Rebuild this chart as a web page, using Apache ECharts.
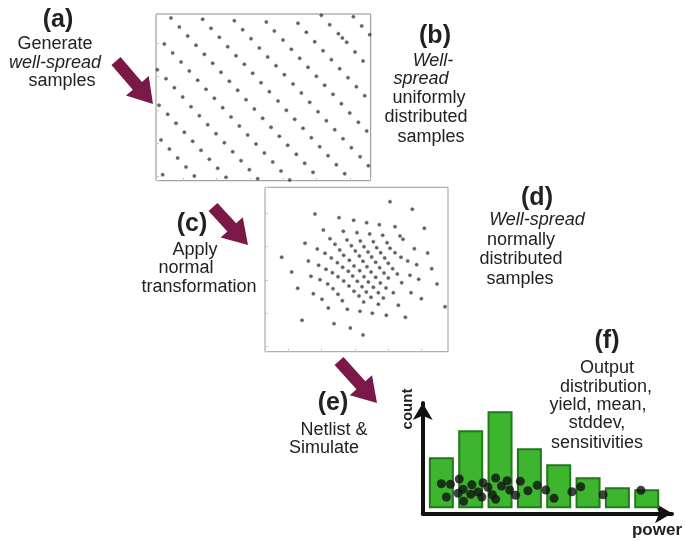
<!DOCTYPE html>
<html>
<head>
<meta charset="utf-8">
<script src="https://cdn.jsdelivr.net/npm/echarts@6/dist/echarts.min.js"></script>
<style>
  html, body { margin: 0; padding: 0; background: #fff; }
  #main { width: 685px; height: 541px; }
</style>
</head>
<body>
<div id="main"></div>
<script>
// (b) well-spread uniform samples (x right, y down)
const uniformSamples = [
  [63,24],[158,28],[253,32],[349,36],[444,40],[514,16],[610,20],
  [88,51],[183,55],[278,59],[373,63],[469,67],[539,44],[635,48],
  [113,78],[208,82],[303,86],[399,90],[494,95],[565,71],[577,84],[590,97],[659,74],
  [43,102],[138,106],[233,110],[328,114],[424,118],[519,122],[615,126],
  [68,129],[163,133],[258,137],[353,141],[449,145],[544,149],[639,153],
  [93,156],[188,160],[283,163],[378,167],[474,172],[569,176],
  [22,179],[118,183],[213,187],[308,190],[403,194],[499,199],[594,203],
  [48,206],[143,211],[238,214],[333,218],[429,222],[524,226],[619,230],
  [73,233],[168,238],[263,241],[358,245],[454,249],[549,253],[644,257],
  [98,261],[193,265],[288,269],[384,273],[479,277],[574,281],
  [27,286],[123,290],[218,293],[313,297],[409,301],[504,305],[599,309],
  [53,313],[148,317],[243,321],[338,325],[434,328],[529,332],[625,337],
  [78,340],[173,344],[268,348],[363,352],[459,355],[554,359],[650,363],
  [103,367],[198,371],[293,375],[388,379],[484,383],[579,386],
  [33,390],[128,394],[223,398],[318,402],[413,406],[509,410],[604,413],
  [58,417],[153,421],[248,425],[343,429],[439,433],[534,437],[630,440],
  [83,444],[178,448],[273,452],[368,456],[464,460],[559,464],[655,467],
  [108,471],[203,475],[298,479],[393,483],[489,487],[584,491],
  [38,494],[133,498],[228,502],[323,506],[419,510]
]

// (d) same samples after the normal transformation
const normalSamples = [
  [405,65],[472,88],[180,102],[252,113],[296,121],[335,128],[373,134],[420,140],[508,145],
  [205,150],[265,154],[306,158],[344,162],[383,166],[435,168],[444,178],
  [150,190],[225,176],[276,180],[316,183],[355,185],[396,188],[478,206],
  [187,207],[240,193],[289,197],[327,200],[365,203],[405,205],[518,219],
  [80,232],[160,243],[210,220],[254,210],[301,213],[339,216],[377,218],[420,218],
  [229,234],[266,226],[313,228],[350,231],[389,234],[438,232],
  [191,256],[247,248],[283,241],[324,244],[362,247],[400,250],[458,243],[485,254],[530,266],
  [110,276],[213,268],[263,262],[297,258],[336,260],[374,263],[413,266],
  [168,289],[232,278],[280,274],[314,272],[348,276],[387,279],[427,282],[465,286],
  [195,299],[249,290],[293,288],[327,290],[362,292],[400,294],[491,298],[546,312],
  [128,325],[218,312],[266,303],[307,304],[340,306],[376,309],[440,308],
  [175,341],[234,326],[282,318],[321,320],[355,322],[393,324],[468,338],
  [201,358],[249,343],[297,334],[334,336],[370,338],[415,338],
  [262,362],[312,348],[348,352],[385,354],[499,356],
  [220,384],[277,388],[326,366],[370,373],[430,376],[570,380],
  [315,394],[352,400],[394,406],[451,412],
  [141,421],[237,431],[286,444],[324,465]
]

// (f) output histogram
const powerBins = ['1', '2', '3', '4', '5', '6', '7', '8']
const binCounts = [51, 78, 97, 60, 44, 31, 21, 19]
// simulated outputs drawn over the histogram
const simPower = [0.50,0.81,0.67,1.11,1.24,1.07,1.26,1.54,1.50,1.75,1.88,1.92,2.09,2.24,2.35,
  2.35,2.55,2.74,2.83,3.03,3.19,3.45,3.77,4.06,4.34,4.95,5.25,6.01,7.30]
const simLevel = [24.6,24,11.3,29.3,19,15,7,23.6,14,16.3,11.3,25.6,21,13.6,30.3,
  9,22.3,27.6,18.3,13,27,17.6,23,18.3,10,16.6,21.6,13.6,18]

const FONT = '"Liberation Sans", Arial, Helvetica, sans-serif'
const INK = '#222'
const ARROW = '#7a1848'

const chart = echarts.init(document.getElementById('main'), null, { renderer: 'canvas' })

// 画一个粗箭头 (tail -> tip)
function arrow(tail, tip, shaftW, headW, headL) {
  const dx = tip[0] - tail[0], dy = tip[1] - tail[1]
  const len = Math.sqrt(dx * dx + dy * dy)
  const ux = dx / len, uy = dy / len, nx = -uy, ny = ux
  const bx = tip[0] - ux * headL, by = tip[1] - uy * headL
  const pts = [
    [tail[0] + nx * shaftW / 2, tail[1] + ny * shaftW / 2],
    [bx + nx * shaftW / 2, by + ny * shaftW / 2],
    [bx + nx * headW / 2, by + ny * headW / 2],
    tip,
    [bx - nx * headW / 2, by - ny * headW / 2],
    [bx - nx * shaftW / 2, by - ny * shaftW / 2],
    [tail[0] - nx * shaftW / 2, tail[1] - ny * shaftW / 2]
  ]
  return { type: 'polygon', shape: { points: pts }, style: { fill: ARROW }, z: 10 }
}

function label(text, x, y, opts = {}) {
  const size = opts.size || 18
  const font = (opts.italic ? 'italic ' : '') + (opts.bold ? 'bold ' : '') + size + 'px ' + FONT
  return {
    type: 'text', x: x, y: y, rotation: opts.rotation || 0, z: 20,
    style: {
      text: text, x: 0, y: 0, font: font, fill: INK,
      align: 'center', verticalAlign: 'middle',
      textAlign: 'center', textVerticalAlign: 'middle'
    }
  }
}

const frameAxis = (min, max, inverse) => ({
  min: min, max: max, inverse: !!inverse,
  axisLine: { show: false },
  axisTick: { show: true, inside: true, length: 3, lineStyle: { color: '#c8c8c8' } },
  axisLabel: { show: false },
  splitLine: { show: false }
})

const lineAxis = (gridIndex) => ({
  gridIndex: gridIndex, type: 'value', min: 0, max: 1,
  axisLine: { show: true, onZero: false, symbol: ['none', 'arrow'], symbolSize: [15, 17],
    lineStyle: { color: '#111', width: 4 } },
  axisTick: { show: false }, axisLabel: { show: false }, splitLine: { show: false }
})

chart.setOption({
  animation: false,
  backgroundColor: '#fff',
  grid: [
    { left: 156, top: 14, width: 214.7, height: 166.7, show: true, borderColor: '#8c8c8c', borderWidth: 1 },
    { left: 265, top: 187.3, width: 183, height: 164.4, show: true, borderColor: '#9a9a9a', borderWidth: 1 },
    { left: 426.7, top: 408.3, width: 234.7, height: 100 },
    { left: 422.7, top: 403, right: 13, bottom: 27.7 }
  ],
  xAxis: [
    Object.assign({ gridIndex: 0, type: 'value' }, frameAxis(18, 662)),
    Object.assign({ gridIndex: 1, type: 'value' }, frameAxis(30, 579)),
    { gridIndex: 2, type: 'category', data: powerBins, boundaryGap: true,
      axisLine: { show: false }, axisTick: { show: false }, axisLabel: { show: false } },
    { gridIndex: 2, type: 'value', min: 0, max: 8, show: false },
    lineAxis(3)
  ],
  yAxis: [
    Object.assign({ gridIndex: 0, type: 'value' }, frameAxis(12, 512, true)),
    Object.assign({ gridIndex: 1, type: 'value' }, frameAxis(22, 515, true)),
    { gridIndex: 2, type: 'value', min: 0, max: 100, show: false },
    lineAxis(3)
  ],
  series: [
    {
      type: 'scatter', xAxisIndex: 0, yAxisIndex: 0, data: uniformSamples,
      symbolSize: 3.5, itemStyle: { color: '#3a3a3a', borderColor: 'rgba(120,120,120,0.4)', borderWidth: 1 },
      silent: true
    },
    {
      type: 'scatter', xAxisIndex: 1, yAxisIndex: 1, data: normalSamples,
      symbolSize: 3.5, itemStyle: { color: '#3a3a3a', borderColor: 'rgba(120,120,120,0.4)', borderWidth: 1 },
      silent: true
    },
    {
      type: 'bar', xAxisIndex: 2, yAxisIndex: 2, data: binCounts, barWidth: 25,
      itemStyle: { color: '#3db52f', borderColor: '#22781c', borderWidth: 2 },
      silent: true
    },
    {
      type: 'scatter', xAxisIndex: 3, yAxisIndex: 2, z: 5,
      data: simPower.map((p, i) => [p, simLevel[i]]),
      symbolSize: 9, itemStyle: { color: '#111' }, silent: true
    }
  ],
  graphic: [
    arrow([116, 61], [153, 104], 12, 30, 24),
    arrow([213, 207], [248, 245], 12, 30, 24),
    arrow([339, 361], [377, 403], 12, 30, 24),

    label('(a)', 58, 20, { bold: true, size: 25 }),
    label('Generate', 55, 44),
    label('well-spread', 55, 63, { italic: true }),
    label('samples', 62, 81),

    label('(b)', 435, 36, { bold: true, size: 25 }),
    label('Well-', 433, 61, { italic: true }),
    label('spread', 421, 79, { italic: true }),
    label('uniformly', 429, 98),
    label('distributed', 426, 117),
    label('samples', 431, 137),

    label('(c)', 192, 224, { bold: true, size: 25 }),
    label('Apply', 195, 250),
    label('normal', 186, 268),
    label('transformation', 199, 287),

    label('(d)', 537, 198, { bold: true, size: 25 }),
    label('Well-spread', 537, 220, { italic: true }),
    label('normally', 521, 240),
    label('distributed', 521, 259),
    label('samples', 520, 279),

    label('(e)', 333, 403, { bold: true, size: 25 }),
    label('Netlist &', 334, 430),
    label('Simulate', 324, 448),

    label('(f)', 607, 341, { bold: true, size: 25 }),
    label('Output', 607, 368),
    label('distribution,', 606, 387),
    label('yield, mean,', 598, 405),
    label('stddev,', 597, 423),
    label('sensitivities', 597, 443),

    label('count', 408, 409, { bold: true, size: 15, rotation: Math.PI / 2 }),
    label('power', 657, 530, { bold: true, size: 17 })
  ]
})
</script>
</body>
</html>
